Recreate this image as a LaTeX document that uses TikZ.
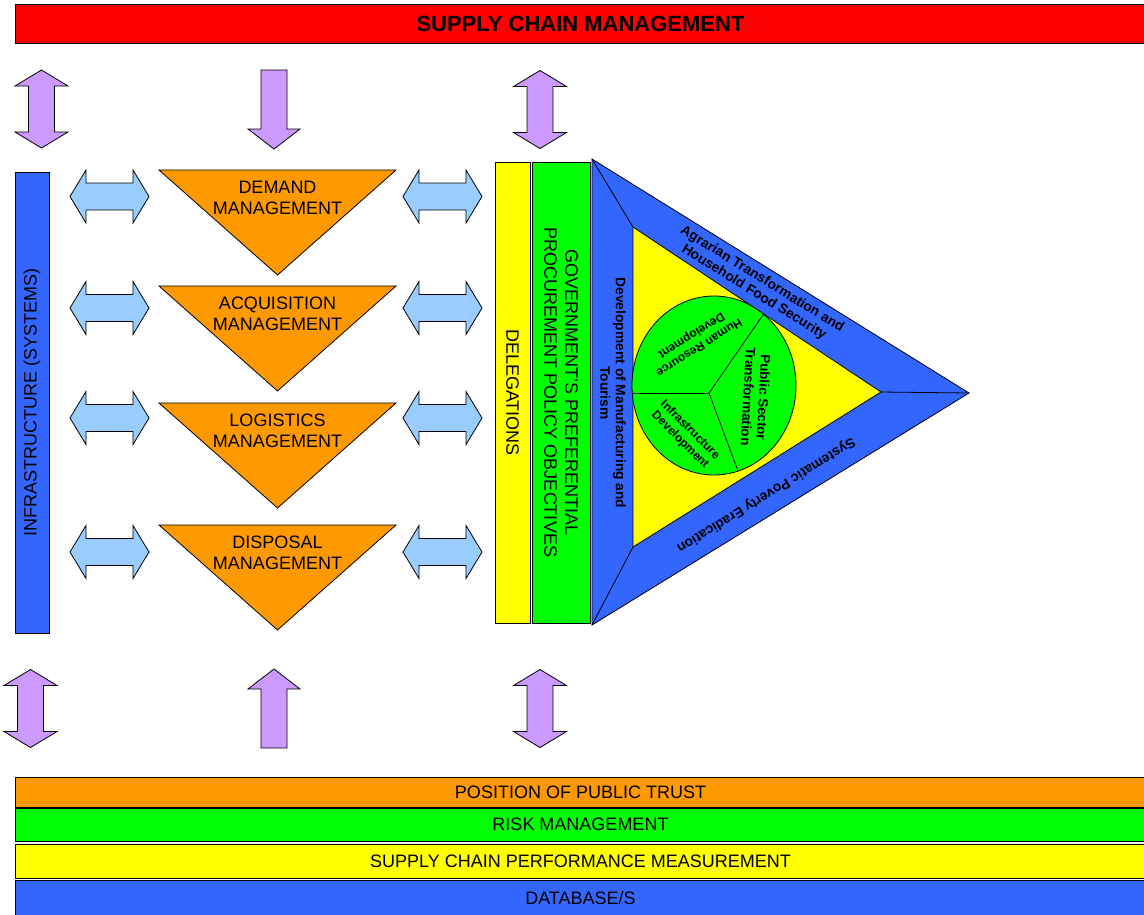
\documentclass[tikz,border=0pt]{standalone}
\usepackage{fontspec}
\setmainfont{Liberation Sans}

\definecolor{scmred}{HTML}{FF0000}
\definecolor{scmblue}{HTML}{3366FF}
\definecolor{scmyellow}{HTML}{FFFF00}
\definecolor{scmgreen}{HTML}{00FF00}
\definecolor{scmorange}{HTML}{FF9900}
\definecolor{lilac}{HTML}{CC99FF}
\definecolor{skyblue}{HTML}{99CCFF}

\tikzset{
  band/.style={draw=black, inner sep=0pt, align=center, font=\fontsize{18}{21}\selectfont},
  tri/.style={draw=black, fill=scmorange},
  tritext/.style={inner sep=0pt, align=center, font=\fontsize{18}{21}\selectfont},
  ringtext/.style={inner sep=0pt, align=center, font=\fontsize{13.8}{15.5}\selectfont\bfseries},
  hubtext/.style={inner sep=0pt, align=center, font=\fontsize{12}{14}\selectfont\bfseries},
  updown/.pic={\filldraw[fill=lilac] (0,-39) -- (26.5,-23) -- (13,-23) -- (13,23) -- (26.5,23) -- (0,39)
      -- (-26.5,23) -- (-13,23) -- (-13,-23) -- (-26.5,-23) -- cycle;},
  downarrow/.pic={\filldraw[fill=lilac] (-13,-39.5) -- (13,-39.5) -- (13,19.5) -- (26,19.5) -- (0,39.5)
      -- (-26,19.5) -- (-13,19.5) -- cycle;},
  uparrow/.pic={\filldraw[fill=lilac] (-13,39.5) -- (13,39.5) -- (13,-19.5) -- (26,-19.5) -- (0,-39.5)
      -- (-26,-19.5) -- (-13,-19.5) -- cycle;},
  sidearrow/.pic={\filldraw[fill=skyblue] (-39.5,0) -- (-23.5,-26.5) -- (-23.5,-13.5) -- (23.5,-13.5) -- (23.5,-26.5)
      -- (39.5,0) -- (23.5,26.5) -- (23.5,13.5) -- (-23.5,13.5) -- (-23.5,26.5) -- cycle;}
}

\begin{document}
\begin{tikzpicture}[x=1pt, y=-1pt, line width=0.8pt]
    \useasboundingbox (0,0) rectangle (1144,914);

    % header
    \node [band, fill=scmred, minimum width=1131pt, minimum height=39pt, font=\fontsize{22}{25}\selectfont\bfseries] (scm) at (580.5,23.5) {SUPPLY CHAIN MANAGEMENT};

    % purple arrows
    \pic at (41.5,109) {updown};
    \pic at (274,109.5) {downarrow};
    \pic at (540,109.5) {updown};
    \pic at (30.5,708.5) {updown};
    \pic at (274,708.5) {uparrow};
    \pic at (540,708.5) {updown};

    % left column
    \node [band, fill=scmblue, minimum width=461pt, minimum height=34pt, rotate=90] (infra) at (32,402.5) {INFRASTRUCTURE (SYSTEMS)};

    \pic at (109.5,196.5) {sidearrow}; \pic at (442.5,196.5) {sidearrow};
    \pic at (109.5,308) {sidearrow}; \pic at (442.5,308) {sidearrow};
    \pic at (109.5,418) {sidearrow}; \pic at (442.5,418) {sidearrow};
    \pic at (109.5,552) {sidearrow}; \pic at (442.5,552) {sidearrow};

    \filldraw [tri] (159,170) -- (396,170) -- (277.5,275) -- cycle;
    \node [tritext] (demand) at (277.5,197.5) {DEMAND\\MANAGEMENT};
    \filldraw [tri] (159,286) -- (396,286) -- (277.5,391) -- cycle;
    \node [tritext] (acquisition) at (277.5,313.5) {ACQUISITION\\MANAGEMENT};
    \filldraw [tri] (159,403) -- (396,403) -- (277.5,508) -- cycle;
    \node [tritext] (logistics) at (277.5,430.5) {LOGISTICS\\MANAGEMENT};
    \filldraw [tri] (159,525) -- (396,525) -- (277.5,630) -- cycle;
    \node [tritext] (disposal) at (277.5,552.5) {DISPOSAL\\MANAGEMENT};

    % policy columns
    \node [band, fill=scmyellow, minimum width=461pt, minimum height=35pt, rotate=-90] (deleg) at (512.5,392.5) {DELEGATIONS};
    \node [band, fill=scmgreen, minimum width=461pt, minimum height=58pt, rotate=-90] (gppo) at (561,392.5) {GOVERNMENT’S PREFERENTIAL\\PROCUREMENT POLICY OBJECTIVES};

    % objectives triangle
    \coordinate (o1) at (592,159); \coordinate (o2) at (969,393); \coordinate (o3) at (592,625);
    \coordinate (i1) at (633,227); \coordinate (i2) at (881,392); \coordinate (i3) at (633,547);
    \filldraw [fill=scmblue] (o1) -- (o2) -- (o3) -- cycle;
    \filldraw [fill=scmyellow] (i1) -- (i2) -- (i3) -- cycle;
    \draw (o1) -- (i1); \draw (o2) -- (i2); \draw (o3) -- (i3);

    \filldraw [fill=scmgreen] (714,385.5) ellipse [x radius=82pt, y radius=89.5pt];
    \coordinate (hub) at (709,393);
    \coordinate (h1) at (632.3,393); \coordinate (h2) at (763,315); \coordinate (h3) at (738,471);
    \draw (hub) -- (h1); \draw (hub) -- (h2); \draw (hub) -- (h3);

    \node [ringtext, rotate=-31.8] (agrarian) at (758,286) {Agrarian Transformation and\\Household Food Security};
    \node [ringtext, rotate=-148.4] (poverty) at (766,495) {Systematic Poverty Eradication};
    \node [ringtext, rotate=-90] (manuf) at (613,393) {Development of Manufacturing and\\Tourism};
    \node [hubtext, rotate=212] (hrd) at (695,341) {Human Resource\\Development};
    \node [hubtext, rotate=-93, font=\fontsize{13.5}{15.5}\selectfont\bfseries] (pst) at (756,397) {Public Sector\\Transformation};
    \node [hubtext, rotate=-45] (infradev) at (685,435) {Infrastructure\\Development};

    % foundation bars
    \node [band, fill=scmorange, minimum width=1131pt, minimum height=30pt] (trust) at (580.5,792) {POSITION OF PUBLIC TRUST};
    \node [band, fill=scmgreen, minimum width=1131pt, minimum height=33pt] (risk) at (580.5,824.5) {RISK MANAGEMENT};
    \node [band, fill=scmyellow, minimum width=1131pt, minimum height=34pt] (perf) at (580.5,861) {SUPPLY CHAIN PERFORMANCE MEASUREMENT};
    \node [band, fill=scmblue, minimum width=1131pt, minimum height=36pt] (db) at (580.5,898) {DATABASE/S};
\end{tikzpicture}
\end{document}
